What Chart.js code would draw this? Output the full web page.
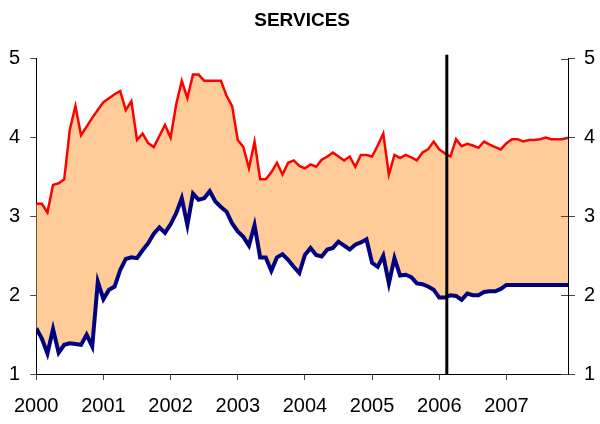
<!DOCTYPE html>
<html>
<head>
<meta charset="utf-8">
<script src="https://cdn.jsdelivr.net/npm/chart.js@4.4.1/dist/chart.umd.min.js"></script>
<style>
  html, body { margin: 0; padding: 0; background: #fff; }
  #wrap { width: 600px; height: 424px; position: relative; }
</style>
</head>
<body>
<div id="wrap"><canvas id="c" width="600" height="424"></canvas></div>
<script>
// Monthly observations, Jan 2000 – Dec 2007
const years = ['2000', '2001', '2002', '2003', '2004', '2005', '2006', '2007'];
const yTicks = [1, 2, 3, 4, 5];

const upper = [
  3.16, 3.16, 3.05, 3.40, 3.42, 3.47, 4.10, 4.40, 4.03, 4.14, 4.25, 4.35,
  4.45, 4.50, 4.55, 4.59, 4.35, 4.46, 3.97, 4.05, 3.93, 3.88, 4.02, 4.16,
  4.00, 4.42, 4.72, 4.50, 4.80, 4.80, 4.72, 4.72, 4.72, 4.72, 4.53, 4.40,
  3.97, 3.88, 3.61, 3.95, 3.47, 3.47, 3.56, 3.68, 3.53, 3.68, 3.71, 3.64,
  3.61, 3.66, 3.63, 3.72, 3.76, 3.81, 3.76, 3.71, 3.76, 3.63, 3.78, 3.78,
  3.76, 3.90, 4.05, 3.53, 3.78, 3.74, 3.78, 3.75, 3.71, 3.81, 3.85, 3.95,
  3.85, 3.80, 3.76, 3.98, 3.89, 3.92, 3.90, 3.87, 3.95, 3.91, 3.88, 3.85,
  3.93, 3.98, 3.98, 3.95, 3.97, 3.97, 3.98, 4.00, 3.98, 3.98, 3.98, 4.00
];

const lower = [
  1.58, 1.45, 1.26, 1.57, 1.27, 1.37, 1.39, 1.38, 1.37, 1.50, 1.35, 2.17,
  1.95, 2.07, 2.11, 2.32, 2.46, 2.48, 2.47, 2.57, 2.66, 2.78, 2.86, 2.79,
  2.90, 3.04, 3.23, 2.89, 3.29, 3.21, 3.23, 3.32, 3.19, 3.12, 3.06, 2.91,
  2.81, 2.74, 2.63, 2.89, 2.48, 2.48, 2.31, 2.48, 2.52, 2.45, 2.36, 2.28,
  2.51, 2.60, 2.51, 2.49, 2.58, 2.60, 2.68, 2.63, 2.58, 2.64, 2.67, 2.71,
  2.41, 2.36, 2.50, 2.15, 2.47, 2.25, 2.26, 2.23, 2.15, 2.14, 2.11, 2.07,
  1.97, 1.97, 2.00, 1.99, 1.94, 2.02, 2.00, 2.00, 2.04, 2.05, 2.05, 2.08,
  2.13, 2.13, 2.13, 2.13, 2.13, 2.13, 2.13, 2.13, 2.13, 2.13, 2.13, 2.13
];

// Marker for the latest actual observation (month index, Feb 2006)
const cutoffMonth = 73.35;

const FONT = "'Liberation Sans', Arial, sans-serif";
const toPoints = arr => arr.map((v, i) => ({ x: i, y: v }));

const cutoffLine = {
  id: 'cutoffLine',
  afterDatasetsDraw(chart) {
    const { ctx, chartArea, scales } = chart;
    const x = scales.x.getPixelForValue(cutoffMonth);
    ctx.save();
    ctx.strokeStyle = '#000';
    ctx.lineWidth = 3;
    ctx.beginPath();
    ctx.moveTo(x, chartArea.top - 4);
    ctx.lineTo(x, chartArea.bottom);
    ctx.stroke();
    ctx.restore();
  }
};

// right-hand ticks cross the axis line
const innerTicks = {
  id: 'innerTicks',
  afterDraw(chart) {
    const { ctx, chartArea, scales } = chart;
    const s = scales.y2;
    ctx.save();
    ctx.strokeStyle = '#444';
    ctx.lineWidth = 1;
    s.ticks.forEach(t => {
      const y = Math.round(s.getPixelForValue(t.value)) + 0.5;
      ctx.beginPath();
      ctx.moveTo(chartArea.right - 7, y);
      ctx.lineTo(chartArea.right, y);
      ctx.stroke();
    });
    ctx.restore();
  }
};

new Chart(document.getElementById('c'), {
  type: 'line',
  data: {
    datasets: [
      {
        data: toPoints(upper),
        borderColor: '#ff0000',
        borderWidth: 2.5,
        backgroundColor: '#ffcc99',
        fill: { target: 1 },
        pointRadius: 0,
        tension: 0
      },
      {
        data: toPoints(lower),
        borderColor: '#000080',
        borderWidth: 4,
        pointRadius: 0,
        fill: false,
        tension: 0
      }
    ]
  },
  options: {
    responsive: false,
    animation: false,
    layout: { padding: 0 },
    plugins: {
      legend: { display: false },
      tooltip: { enabled: false },
      filler: { drawTime: 'beforeDatasetsDraw' },
      title: {
        display: true,
        text: 'SERVICES',
        color: '#000',
        fullSize: false,
        font: { family: FONT, size: 19, weight: 'bold' },
        padding: { top: 9, bottom: 27 }
      }
    },
    scales: {
      x: {
        type: 'linear',
        min: 0,
        max: upper.length - 1,
        afterBuildTicks: s => { s.ticks = years.map((y, i) => ({ value: i * 12 })); },
        afterFit: s => { s.height = 50; },
        ticks: {
          autoSkip: false,
          maxRotation: 0,
          color: '#000',
          padding: 14,
          font: { family: FONT, size: 20 },
          callback: v => years[Math.round(v / 12)]
        },
        grid: { drawOnChartArea: false, tickLength: 6, tickColor: '#444' },
        border: { display: true, color: '#000', width: 1 }
      },
      y: {
        position: 'left',
        min: 1,
        max: 5,
        afterBuildTicks: s => { s.ticks = yTicks.map(v => ({ value: v })); },
        afterFit: s => { s.width = 36; },
        ticks: { color: '#000', padding: 10, font: { family: FONT, size: 20 } },
        grid: { drawOnChartArea: false, tickLength: 6, tickColor: '#444' },
        border: { display: true, color: '#000', width: 1 }
      },
      y2: {
        position: 'right',
        min: 1,
        max: 5,
        afterBuildTicks: s => { s.ticks = yTicks.map(v => ({ value: v })); },
        afterFit: s => { s.width = 32; },
        ticks: { color: '#000', padding: 9, font: { family: FONT, size: 20 } },
        grid: { drawOnChartArea: false, tickLength: 7, tickColor: '#444' },
        border: { display: true, color: '#000', width: 1 }
      }
    }
  },
  plugins: [cutoffLine, innerTicks]
});
</script>
</body>
</html>
